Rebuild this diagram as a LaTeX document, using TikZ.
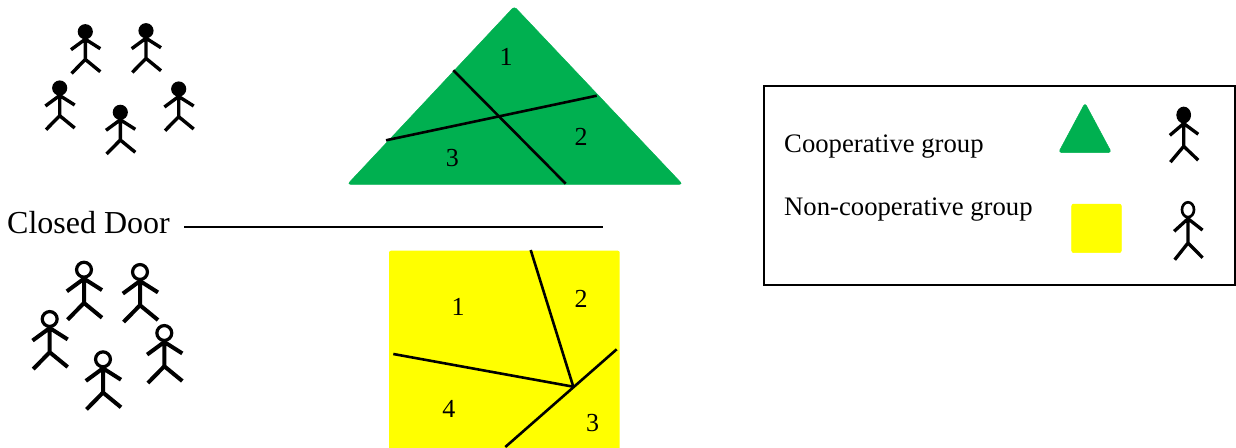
\documentclass[tikz,border=0pt]{standalone}
\usepackage{fontspec}
\setmainfont{Liberation Serif}
\definecolor{groupgreen}{HTML}{00B050}
\definecolor{groupyellow}{HTML}{FFFF00}
\begin{document}
\begin{tikzpicture}[
  x=1pt,y=-1pt,
  cut/.style={line width=2.6pt, draw=black},
  wall/.style={line width=2.9pt, draw=black},
  shapegreen/.style={fill=groupgreen, draw=groupgreen, rounded corners=3pt, line width=.5pt},
  shapeyellow/.style={fill=groupyellow, draw=groupyellow, rounded corners=2pt, line width=.5pt},
  num/.style={font=\fontsize{26}{26}\selectfont, inner sep=0pt},
  legendtext/.style={font=\fontsize{26.7}{27}\selectfont, inner sep=0pt, anchor=west},
  pics/stickman/.style 2 args={code={
    \draw[line width=#2] (0,0) -- (0,27.7) (-14.3,18) -- (0,7.5) -- (15,17)
      (-13.7,41.7) -- (0,27.7) -- (15,40);
    \draw[line width=.8*#2, fill=#1] (0,0) circle (6.2);
  }},
]
\useasboundingbox (0,0) rectangle (1236,447);

% cooperative group
\foreach \px/\py in {85.3/31.7,146/30.7,59.7/88,120.3/112.3,178.7/89}{
  \pic at (\px,\py) {stickman={black}{3.4pt}};
}
\draw[shapegreen] (514.3,6.5) -- (682.5,184.3) -- (347.5,184.3) -- cycle;
\draw[cut] (453.3,70.3) -- (565.7,183.7);
\draw[cut] (386,140.3) -- (596.7,95.7);
\node[num] (g1) at (506,56.7) {1};
\node[num] (g2) at (581,137.3) {2};
\node[num] (g3) at (452.3,158.3) {3};

\node[font=\fontsize{32}{32}\selectfont, inner sep=0pt, anchor=west] (door) at (7,222.5) {Closed Door};
\draw[wall] (184,227) -- (603,227);

% non-cooperative group
\foreach \px/\py in {84/269.7,140/272,49.7/319,103/359.3,164.3/333}{
  \pic[scale=1.2] at (\px,\py) {stickman={white}{4pt}};
}
\fill[groupyellow, rounded corners=2pt] (389,250.7) rectangle (619.7,455);
\draw[cut] (530.7,250) -- (573.3,386.7);
\draw[cut] (393.3,354) -- (573.3,386.7);
\draw[cut] (616.7,349.3) -- (505.3,447);
\node[num] (y1) at (458,306.7) {1};
\node[num] (y2) at (581,299) {2};
\node[num] (y3) at (592.5,422.7) {3};
\node[num] (y4) at (448.8,409) {4};

% legend
\draw[line width=2pt] (764,86) rectangle (1235,284.5);
\node[legendtext] (cooplabel) at (784,147) {Cooperative group};
\node[legendtext] (noncooplabel) at (784,210) {Non-cooperative group};
\draw[shapegreen] (1085,103) -- (1111.5,152.5) -- (1058.5,152.5) -- cycle;
\draw[shapeyellow] (1071.7,204) rectangle (1121.3,252.7);
\pic[xscale=.97,yscale=1.13] at (1183.7,115) {stickman={black}{3.3pt}};
\pic[xscale=.97,yscale=1.2] at (1188,209.7) {stickman={white}{3.3pt}};
\end{tikzpicture}
\end{document}
